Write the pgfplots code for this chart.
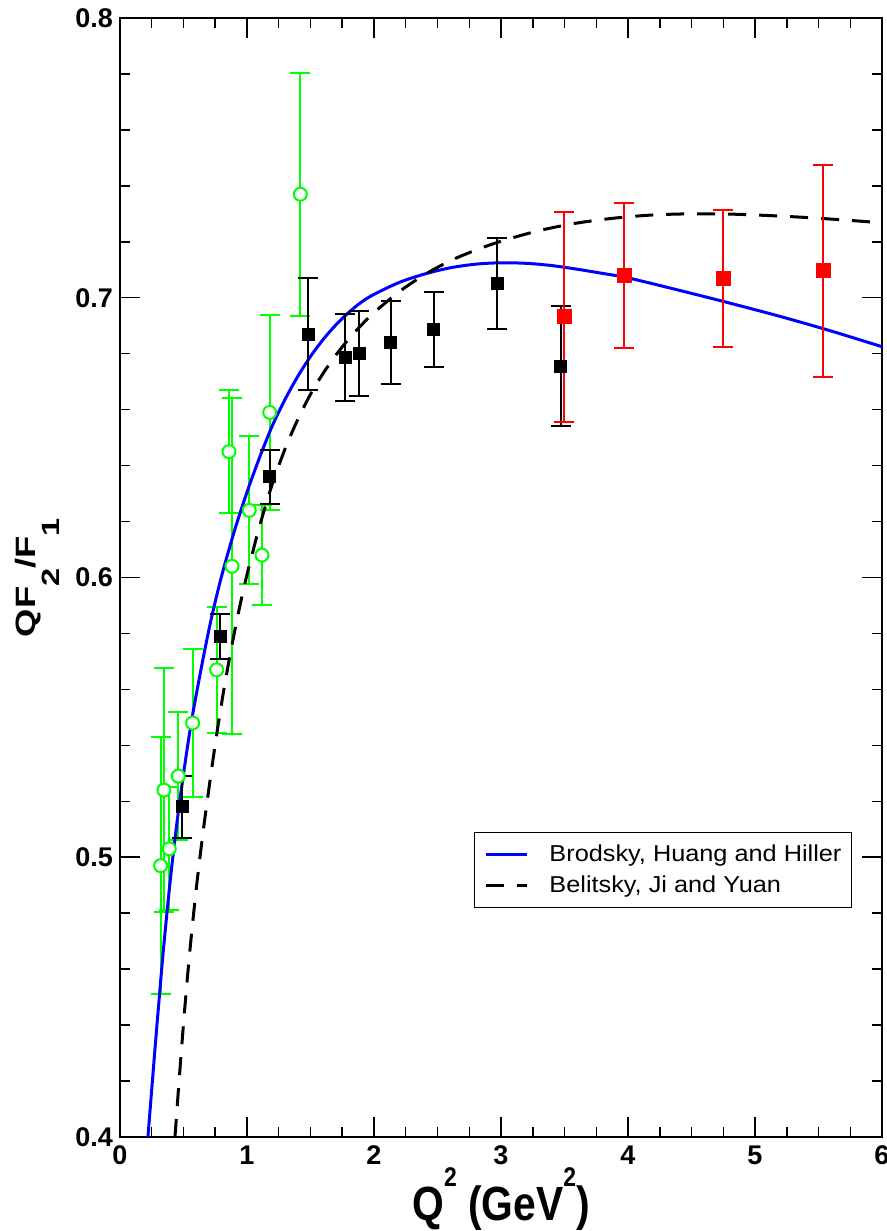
\documentclass[border=0pt]{standalone}
\usepackage{fontspec}
\setmainfont{Liberation Sans}
\newfontfamily\xlabfont{Liberation Sans}[FakeStretch=0.85]
\newfontfamily\ylabfont{Liberation Sans}[FakeStretch=1.3]
\newfontfamily\legfont{Liberation Sans}[FakeStretch=1.1]
\usepackage{pgfplots}
\pgfplotsset{compat=1.18}
\definecolor{pgreen}{RGB}{0,255,0}
\definecolor{pred}{RGB}{255,0,0}
\definecolor{pblue}{RGB}{0,0,255}
\begin{document}
\begin{tikzpicture}
\begin{axis}[
  scale only axis,
  width=381pt, height=559.5pt,
  xmin=0, xmax=6, ymin=0.4, ymax=0.8,
  xtick={0,1,2,3,4,5,6},
  ytick={0.4,0.5,0.6,0.7,0.8},
  minor x tick num=3,
  minor y tick num=4,
  tick align=inside,
  major tick length=10pt,
  minor tick length=5pt,
  every tick/.style={black, line width=0.75pt},
  axis line style={line width=1pt},
  /pgf/number format/assume math mode=true,
  ticklabel style={font=\fontsize{13.5}{14}\selectfont\bfseries},
  xticklabel style={yshift=-1pt},
  yticklabel style={/pgf/number format/.cd, fixed, fixed zerofill, precision=1},
  xlabel={\xlabfont\bfseries\fontsize{24}{26}\selectfont Q\raisebox{17pt}{\fontsize{13.5}{13.5}\selectfont 2} (GeV\raisebox{17pt}{\fontsize{13.5}{13.5}\selectfont 2})},
  xlabel style={at={(axis description cs:0.5,0)}, anchor=base, yshift=-41.5pt},
  ylabel={\ylabfont\bfseries\fontsize{14}{16}\selectfont QF\raisebox{-12pt}{\fontsize{12.5}{12.5}\selectfont 2}/F\raisebox{-12pt}{\fontsize{12.5}{12.5}\selectfont 1}},
  ylabel style={at={(axis description cs:-0.1115,0.5)}, anchor=base},
  legend style={at={(0.9606,0.2726)}, anchor=north east, draw=black, line width=0.5pt,
    font=\legfont\fontsize{11.5}{13}\selectfont, inner xsep=3pt, inner ysep=4pt, row sep=2pt,
    cells={anchor=west}},
  legend image code/.code={\path (-2pt,0pt); \draw[#1] (0pt,0pt) -- (20.5pt,0pt); \path (29pt,0pt);},
]
% green open circles
\addplot[forget plot, only marks, mark=*, mark size=3.25pt,
  mark options={draw=pgreen, fill=white, line width=1pt},
  error bars/.cd, y dir=both, y explicit,
  error bar style={pgreen, line width=1pt},
  error mark options={rotate=90, pgreen, line width=1pt, mark size=5pt}]
coordinates {
(0.320,0.497) +- (0,0.046)
(0.346,0.524) +- (0,0.0435)
(0.388,0.503) +- (0,0.022)
(0.459,0.529) +- (0,0.023)
(0.572,0.548) +- (0,0.0265)
(0.761,0.567) +- (0,0.0225)
(0.858,0.645) +- (0,0.022)
(0.882,0.604) +- (0,0.060)
(1.018,0.624) +- (0,0.0265)
(1.118,0.608) +- (0,0.018)
(1.179,0.659) +- (0,0.035)
(1.420,0.737) +- (0,0.0435)
};
% blue curve
\addplot[pblue, line width=1.5pt, smooth, no marks] coordinates {
(0.22,0.400) (0.28,0.434) (0.341,0.4665) (0.40,0.4935) (0.46,0.5165) (0.52,0.536)
(0.57,0.5505) (0.65,0.570) (0.72,0.5855) (0.80,0.6005) (0.90,0.6165) (1.00,0.6305)
(1.10,0.643) (1.20,0.6543) (1.30,0.6637) (1.40,0.6719) (1.50,0.679) (1.60,0.6851)
(1.70,0.6903) (1.80,0.6947) (1.90,0.6984) (2.00,0.7012) (2.20,0.7055) (2.40,0.7085)
(2.60,0.7107) (2.80,0.712) (3.00,0.7125) (3.20,0.7123) (3.40,0.7115) (3.60,0.7102)
(3.80,0.7087) (4.00,0.7071) (4.40,0.7027) (4.80,0.6981) (5.20,0.6933) (5.60,0.6881)
(6.00,0.6825)
};
\addlegendentry{Brodsky, Huang and Hiller}
% dashed curve
\addplot[black, line width=1.5pt, dash pattern=on 9pt off 6.5pt, smooth, no marks] coordinates {
(0.433,0.400) (0.47,0.423) (0.51,0.446) (0.55,0.4665) (0.60,0.4885) (0.65,0.5075)
(0.70,0.5245) (0.76,0.5435) (0.82,0.5605) (0.88,0.5755) (0.94,0.5890) (1.00,0.6010)
(1.10,0.6185) (1.20,0.6335) (1.30,0.6460) (1.40,0.6565) (1.50,0.6655) (1.60,0.6730)
(1.70,0.6795) (1.80,0.6852) (1.90,0.6902) (2.00,0.6947) (2.20,0.7022) (2.40,0.7083)
(2.60,0.7132) (2.80,0.7170) (3.00,0.7202) (3.30,0.7240) (3.60,0.7267) (3.90,0.7285)
(4.20,0.7296) (4.50,0.7300) (4.80,0.7299) (5.10,0.7294) (5.40,0.7287) (5.70,0.7278)
(6.00,0.7268)
};
\addlegendentry{Belitsky, Ji and Yuan}
% black squares
\addplot[forget plot, only marks, mark=square*, mark size=3pt,
  mark options={draw=black, fill=black},
  error bars/.cd, y dir=both, y explicit,
  error bar style={black, line width=1pt},
  error mark options={rotate=90, black, line width=1pt, mark size=5pt}]
coordinates {
(0.491,0.518) +- (0,0.011)
(0.787,0.579) +- (0,0.008)
(1.179,0.636) +- (0,0.0097)
(1.483,0.687) +- (0,0.020)
(1.772,0.6786) +- (0,0.0156)
(1.882,0.680) +- (0,0.0153)
(2.131,0.684) +- (0,0.0147)
(2.470,0.6886) +- (0,0.0135)
(2.969,0.7052) +- (0,0.0162)
(3.469,0.6756) +- (0,0.0213)
};
% red squares
\addplot[forget plot, only marks, mark=square*, mark size=3.5pt,
  mark options={draw=pred, fill=pred},
  error bars/.cd, y dir=both, y explicit,
  error bar style={pred, line width=1pt},
  error mark options={rotate=90, pred, line width=1pt, mark size=5pt}]
coordinates {
(3.499,0.6932) +- (0,0.0375)
(3.969,0.7079) +- (0,0.026)
(4.748,0.707) +- (0,0.0245)
(5.538,0.7096) +- (0,0.0378)
};
\end{axis}
\pgfresetboundingbox
\useasboundingbox ([xshift=-60pt,yshift=-47pt]current axis.south west) rectangle ([xshift=2.5pt,yshift=9pt]current axis.north east);
\end{tikzpicture}
\end{document}
